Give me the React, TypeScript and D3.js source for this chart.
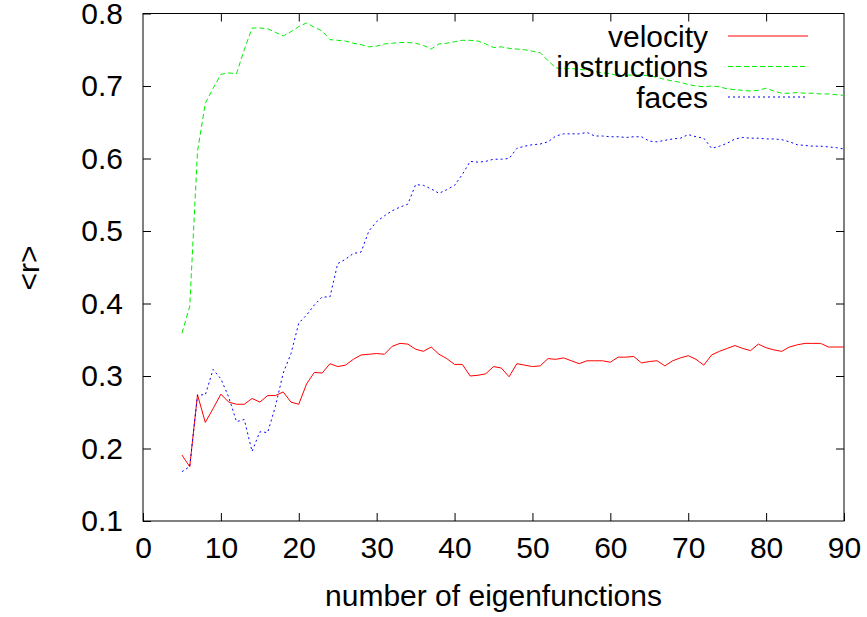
import React, { useEffect, useRef } from 'react';
import * as d3 from 'd3';

// eigenfunction count 5..90
const xs = d3.range(5, 91);

const velocity = [
  0.191, 0.175, 0.274, 0.236, 0.255, 0.275, 0.264, 0.261, 0.261, 0.269,
  0.264, 0.273, 0.273, 0.278, 0.264, 0.261, 0.289, 0.305, 0.304, 0.317,
  0.313, 0.315, 0.323, 0.329, 0.330, 0.331, 0.330, 0.341, 0.345, 0.344,
  0.337, 0.334, 0.340, 0.330, 0.324, 0.316, 0.316, 0.300, 0.301, 0.303,
  0.313, 0.311, 0.299, 0.317, 0.315, 0.313, 0.314, 0.324, 0.323, 0.325,
  0.321, 0.317, 0.321, 0.321, 0.321, 0.319, 0.326, 0.326, 0.327, 0.318,
  0.320, 0.321, 0.314, 0.321, 0.325, 0.328, 0.323, 0.315, 0.329, 0.334,
  0.338, 0.342, 0.338, 0.335, 0.344, 0.339, 0.336, 0.334, 0.340, 0.343,
  0.345, 0.345, 0.345, 0.340, 0.340, 0.340,
];

const instructions = [
  0.359, 0.396, 0.610, 0.676, 0.697, 0.716, 0.718, 0.717, 0.750, 0.780,
  0.780, 0.779, 0.774, 0.769, 0.775, 0.782, 0.787, 0.781, 0.776, 0.764,
  0.763, 0.762, 0.759, 0.757, 0.754, 0.755, 0.758, 0.759, 0.760, 0.760,
  0.759, 0.756, 0.751, 0.758, 0.759, 0.761, 0.763, 0.763, 0.762, 0.758,
  0.753, 0.754, 0.752, 0.751, 0.750, 0.748, 0.746, 0.735, 0.725, 0.724,
  0.724, 0.723, 0.722, 0.720, 0.718, 0.717, 0.714, 0.715, 0.715, 0.715,
  0.714, 0.712, 0.709, 0.707, 0.705, 0.702, 0.700, 0.699, 0.700, 0.699,
  0.696, 0.695, 0.694, 0.693, 0.694, 0.697, 0.693, 0.690, 0.690, 0.691,
  0.690, 0.690, 0.689, 0.689, 0.688, 0.687,
];

const faces = [
  0.168, 0.175, 0.274, 0.274, 0.309, 0.296, 0.271, 0.237, 0.240, 0.196,
  0.223, 0.222, 0.258, 0.304, 0.331, 0.373, 0.384, 0.398, 0.409, 0.409,
  0.455, 0.461, 0.469, 0.471, 0.500, 0.513, 0.521, 0.528, 0.533, 0.537,
  0.564, 0.563, 0.558, 0.552, 0.557, 0.563, 0.578, 0.596, 0.595, 0.596,
  0.599, 0.599, 0.600, 0.614, 0.617, 0.619, 0.620, 0.623, 0.631, 0.634,
  0.634, 0.634, 0.636, 0.631, 0.631, 0.630, 0.630, 0.629, 0.630, 0.630,
  0.624, 0.623, 0.625, 0.627, 0.628, 0.633, 0.630, 0.628, 0.614, 0.617,
  0.621, 0.627, 0.629, 0.628, 0.628, 0.627, 0.627, 0.626, 0.623, 0.619,
  0.618, 0.617, 0.617, 0.616, 0.615, 0.613,
];

const xTicks = [0, 10, 20, 30, 40, 50, 60, 70, 80, 90];
const yTicks = [0.1, 0.2, 0.3, 0.4, 0.5, 0.6, 0.7, 0.8];

const series = [
  { name: 'velocity', values: velocity, color: '#ff0000', dash: null },
  { name: 'instructions', values: instructions, color: '#00ee00', dash: '5,3' },
  { name: 'faces', values: faces, color: '#0000ff', dash: '2,3' },
];

export default function App() {
  const ref = useRef(null);

  useEffect(() => {
    const svg = d3.select(ref.current);
    svg.selectAll('*').remove();

    const left = 143, right = 844, top = 13.5, bottom = 521;
    const font = '"Liberation Sans", Arial, Helvetica, sans-serif';

    const x = d3.scaleLinear().domain([0, 90]).range([left, right]);
    const y = d3.scaleLinear().domain([0.1, 0.8]).range([bottom, top]);

    const styleAxis = (g) => {
      g.select('.domain').remove();
      g.selectAll('line').attr('stroke', '#000').attr('stroke-width', 1);
      g.selectAll('text')
        .attr('font-family', font)
        .attr('font-size', 30)
        .attr('fill', '#000');
    };

    svg.append('g')
      .attr('transform', `translate(0,${bottom})`)
      .call(d3.axisBottom(x).tickValues(xTicks).tickSizeInner(-8).tickSizeOuter(0).tickPadding(16))
      .call(styleAxis);

    svg.append('g')
      .attr('transform', `translate(0,${top})`)
      .call(d3.axisTop(x).tickValues(xTicks.slice(1, -1)).tickSizeInner(-8).tickSizeOuter(0).tickFormat(() => ''))
      .call(styleAxis);

    svg.append('g')
      .attr('transform', `translate(${left},0)`)
      .call(d3.axisLeft(y).tickValues(yTicks).tickSizeInner(-8).tickSizeOuter(0).tickPadding(20).tickFormat(d3.format('.1f')))
      .call(styleAxis);

    svg.append('g')
      .attr('transform', `translate(${right},0)`)
      .call(d3.axisRight(y).tickValues(yTicks.slice(1, -1)).tickSizeInner(-8).tickSizeOuter(0).tickFormat(() => ''))
      .call(styleAxis);

    svg.append('rect')
      .attr('x', left)
      .attr('y', top)
      .attr('width', right - left)
      .attr('height', bottom - top)
      .attr('fill', 'none')
      .attr('stroke', '#000')
      .attr('stroke-width', 1);

    const line = d3.line()
      .x((d, i) => x(xs[i]))
      .y((d) => y(d));

    series.forEach((s) => {
      svg.append('path')
        .datum(s.values)
        .attr('d', line)
        .attr('fill', 'none')
        .attr('stroke', s.color)
        .attr('stroke-width', 1)
        .attr('stroke-dasharray', s.dash);
    });

    // legend
    const legend = svg.append('g').attr('font-family', font).attr('font-size', 30);
    series.forEach((s, i) => {
      const ly = 36 + i * 30.5;
      legend.append('text')
        .attr('x', 708)
        .attr('y', ly)
        .attr('dy', '0.36em')
        .attr('text-anchor', 'end')
        .attr('fill', '#000')
        .text(s.name);
      legend.append('line')
        .attr('x1', 728)
        .attr('x2', 808)
        .attr('y1', ly)
        .attr('y2', ly)
        .attr('stroke', s.color)
        .attr('stroke-width', 1)
        .attr('stroke-dasharray', s.dash);
    });

    svg.append('text')
      .attr('x', (left + right) / 2)
      .attr('y', 606)
      .attr('text-anchor', 'middle')
      .attr('font-family', font)
      .attr('font-size', 30)
      .attr('fill', '#000')
      .text('number of eigenfunctions');

    svg.append('text')
      .attr('transform', 'translate(28,268) rotate(-90)')
      .attr('dy', '0.36em')
      .attr('text-anchor', 'middle')
      .attr('font-family', font)
      .attr('font-size', 30)
      .attr('fill', '#000')
      .text('<r>');
  }, []);

  return (
    <svg
      ref={ref}
      width={867}
      height={617}
      style={{ position: 'absolute', left: 0, top: 0, background: '#fff' }}
    />
  );
}
